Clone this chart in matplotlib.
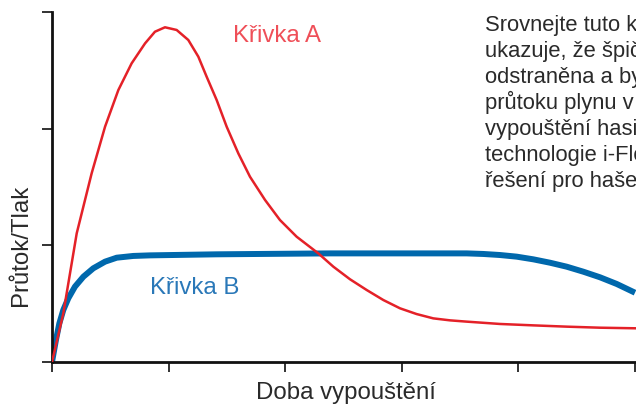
import numpy as np
import matplotlib.pyplot as plt

plt.rcParams['font.family'] = ['Liberation Sans', 'DejaVu Sans']

# Křivka A (red)
xa = [0.0, 0.097, 0.212, 0.340, 0.455, 0.569, 0.683, 0.798, 0.883, 0.969, 1.069,
      1.169, 1.255, 1.326, 1.412, 1.498, 1.598, 1.698, 1.827, 1.955, 2.098, 2.284,
      2.413, 2.556, 2.699, 2.842, 2.985, 3.127, 3.270, 3.413, 3.556, 3.842, 4.128,
      4.414, 4.700, 5.0]
ya = [0.0, 0.417, 1.103, 1.617, 2.017, 2.331, 2.560, 2.731, 2.831, 2.869, 2.846,
      2.760, 2.617, 2.446, 2.246, 2.017, 1.788, 1.588, 1.389, 1.217, 1.074, 0.931,
      0.817, 0.709, 0.617, 0.531, 0.460, 0.411, 0.374, 0.357, 0.346, 0.326, 0.314,
      0.303, 0.294, 0.289]

# Křivka B (blue)
xb = [0.0, 0.034, 0.063, 0.097, 0.140, 0.197, 0.269, 0.354, 0.455, 0.555, 0.697,
      0.840, 1.412, 2.384, 3.556, 3.699, 3.842, 3.985, 4.128, 4.271, 4.414, 4.557,
      4.700, 4.843, 5.0]
yb = [0.0, 0.189, 0.331, 0.446, 0.546, 0.646, 0.731, 0.803, 0.860, 0.894, 0.909,
      0.914, 0.923, 0.931, 0.931, 0.926, 0.917, 0.903, 0.880, 0.851, 0.817, 0.774,
      0.726, 0.669, 0.594]

xticks = [0, 1, 2, 3, 4, 5]
yticks = [0, 1, 2, 3]

popis = ["Srovnejte tuto křivku",
         "ukazuje, že špička tlaku",
         "odstraněna a bylo",
         "průtoku plynu v průběhu",
         "vypouštění hasiva",
         "technologie i-Flow",
         "řešení pro hašení"]

W, H = 636, 407
fig = plt.figure(figsize=(W / 100, H / 100), dpi=100)
ax = fig.add_axes([52 / W, (H - 362) / H, 1 - 52 / W, 350 / H])

ax.plot(xb, yb, color='#0068AC', lw=4.3, solid_capstyle='butt', solid_joinstyle='round', zorder=2)
ax.plot(xa, ya, color='#E42128', lw=1.8, solid_joinstyle='round', zorder=3)

ax.set_xlim(0, 5 * 584 / 583)
ax.set_ylim(0, 3)
ax.set_xticks(xticks)
ax.set_yticks(yticks)
ax.set_xticklabels([])
ax.set_yticklabels([])
ax.tick_params(direction='out', length=7, width=1.3, color='#222222')
for s in ['top', 'right']:
    ax.spines[s].set_visible(False)
for s in ['left', 'bottom']:
    ax.spines[s].set_linewidth(2)
    ax.spines[s].set_color('#111111')

fs = 17.3
txt = '#2a2a2a'
fig.text(233 / W, 1 - 42 / H, "Křivka A", color='#EF4F58', fontsize=fs, va='baseline')
fig.text(150 / W, 1 - 294 / H, "Křivka B", color='#2A78B8', fontsize=fs, va='baseline')

fig.text(21 / W, 1 - 245 / H, "Průtok/Tlak", color=txt, fontsize=fs,
         rotation=90, ha='center', va='center')
fig.text(346 / W, 1 - 399 / H, "Doba vypouštění", color=txt, fontsize=fs,
         ha='center', va='baseline')

# paragraph is cut by the right edge, as in the original
for i, radek in enumerate(popis):
    fig.text(485 / W, 1 - (31 + 26 * i) / H, radek, color=txt, fontsize=15.8,
             va='baseline')

fig.savefig('out.png', dpi=100)
